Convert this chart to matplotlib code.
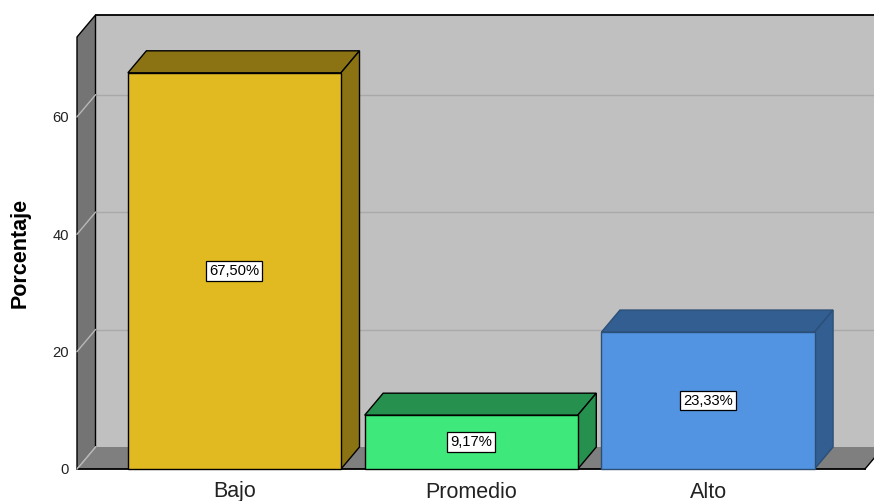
import matplotlib
matplotlib.use("Agg")
import matplotlib.pyplot as plt
from matplotlib.patches import Polygon

plt.rcParams['font.family'] = ['Liberation Sans', 'DejaVu Sans']

# ---- data ----
categories = ["Bajo", "Promedio", "Alto"]
values = [67.50, 9.17, 23.33]
value_labels = ["67,50%", "9,17%", "23,33%"]
y_ticks = [0, 20, 40, 60]
y_label = "Porcentaje"

# ---- style ----
front_colors = ["#e0ba20", "#3ee87a", "#5294e2"]
dark_colors = ["#8b7314", "#26914e", "#325e91"]
edge_colors = ["black", "black", "#2c4f78"]
back_wall = "#c0c0c0"
left_wall = "#747474"
floor_col = "#7f7f7f"

W, H = 874, 501
fig = plt.figure(figsize=(W / 100, H / 100), dpi=100)

# front frame in pixels
fx0, fx1 = 77, 865
fy_top, fy_bot = 37, 469
ax = fig.add_axes([fx0 / W, (H - fy_bot) / H, (fx1 - fx0) / W, (fy_bot - fy_top) / H])
ymax = 73.6
xmin, xmax = -0.665, 2.663
ax.set_xlim(xmin, xmax)
ax.set_ylim(0, ymax)
ax.set_facecolor("none")
for s in ax.spines.values():
    s.set_visible(False)

# depth offsets in data units
px_x = (fx1 - fx0) / (xmax - xmin)
px_y = (fy_bot - fy_top) / ymax
ddx = 18.5 / px_x
ddy = 22.0 / px_y

def poly(pts, fc, ec="black", lw=1.0, z=1):
    p = Polygon(pts, closed=True, facecolor=fc, edgecolor=ec, linewidth=lw,
                clip_on=False, zorder=z, joinstyle="miter")
    ax.add_patch(p)

far_right = xmax + 0.2
# back wall
poly([(xmin + ddx, ddy), (far_right, ddy), (far_right, ymax + ddy), (xmin + ddx, ymax + ddy)],
     back_wall, ec="none", z=1)
ax.plot([xmin + ddx, far_right], [ymax + ddy, ymax + ddy], color="black", lw=1.3,
        clip_on=False, zorder=2)
# grid lines on back wall
for t in y_ticks[1:]:
    ax.plot([xmin + ddx, far_right], [t + ddy, t + ddy], color="#a9a9a9", lw=1.0,
            clip_on=False, zorder=2)
# left wall
poly([(xmin, 0), (xmin + ddx, ddy), (xmin + ddx, ymax + ddy), (xmin, ymax)], left_wall,
     ec="black", lw=1.0, z=3)
for t in y_ticks:
    ax.plot([xmin, xmin + ddx], [t, t + ddy], color="#b8b8b8", lw=1.0,
            clip_on=False, zorder=4)
# floor
poly([(xmin, 0), (xmax, 0), (xmax + ddx, ddy), (xmin + ddx, ddy)], floor_col,
     ec="none", z=3)
ax.plot([xmin, xmax], [0, 0], color="black", lw=1.3, clip_on=False, zorder=4)
ax.plot([xmax, xmax + ddx], [0, ddy], color="black", lw=1.0, clip_on=False, zorder=4)
ax.plot([xmin, xmin + ddx], [0, ddy], color="#b8b8b8", lw=1.0, clip_on=False, zorder=4)

# bars
bw = 0.9
for i, (v, fc, dc, ec, lab) in enumerate(zip(values, front_colors, dark_colors,
                                             edge_colors, value_labels)):
    x0, x1 = i - bw / 2, i + bw / 2
    # top face
    poly([(x0, v), (x1, v), (x1 + ddx, v + ddy), (x0 + ddx, v + ddy)], dc, ec=ec, z=5)
    # side face
    poly([(x1, 0), (x1 + ddx, ddy), (x1 + ddx, v + ddy), (x1, v)], dc, ec=ec, z=5)
    # front face
    poly([(x0, 0), (x1, 0), (x1, v), (x0, v)], fc, ec=ec, z=6)
    ax.text(i, v / 2, lab, ha="center", va="center", fontsize=10.6, zorder=8,
            bbox=dict(boxstyle="square,pad=0.2", facecolor="white", edgecolor="black",
                      linewidth=0.9))

ax.set_yticks(y_ticks)
ax.set_yticklabels([str(t) for t in y_ticks], fontsize=10.6, color="#222222")
ax.set_xticks(range(len(categories)))
ax.set_xticklabels(categories, fontsize=15.5, color="#222222")
ax.tick_params(axis="y", length=0, pad=6)
ax.tick_params(axis="x", length=0, pad=9)

fig.text(20.5 / W, 1 - 253 / H, y_label, rotation=90, ha="center", va="center",
         fontsize=15.5, fontweight="bold")

fig.savefig("out.png", dpi=100)
